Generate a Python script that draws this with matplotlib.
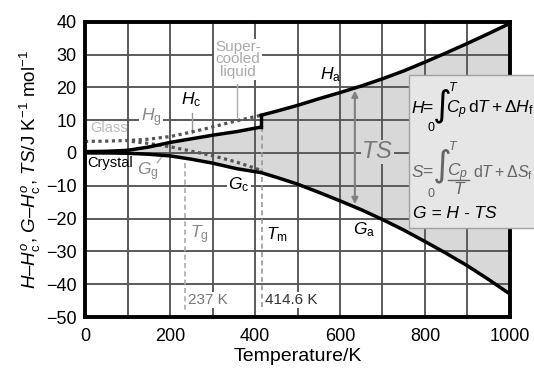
import matplotlib
matplotlib.use("Agg")
import matplotlib.pyplot as plt
from matplotlib.patches import Rectangle
from matplotlib.lines import Line2D
from matplotlib.ticker import MultipleLocator

plt.rcParams['font.family'] = ['Liberation Sans', 'DejaVu Sans']
plt.rcParams['mathtext.fontset'] = 'custom'
plt.rcParams['mathtext.rm'] = 'Liberation Sans'
plt.rcParams['mathtext.it'] = 'Liberation Sans:italic'
plt.rcParams['mathtext.bf'] = 'Liberation Sans:bold'
plt.rcParams['mathtext.fallback'] = 'stixsans'

# ---- data ----
T_g = 237.0
T_m = 414.6

T_cryst = [0, 50, 100, 150, 200, 250, 300, 357, 414.6]
H_cryst = [0.4, 0.5, 0.8, 1.8, 3.2, 4.3, 5.4, 6.5, 7.9]
G_cryst = [0.0, 0.0, -0.1, -0.4, -0.9, -1.9, -3.1, -4.8, -6.0]

T_glassH = [0, 50, 100, 150, 200, 237, 278, 320, 357, 414.6]
H_glass = [3.5, 3.6, 3.8, 4.2, 5.0, 6.0, 7.2, 8.6, 9.8, 11.5]

T_glassG = [110, 150, 200, 237, 278, 320, 357, 414.6]
G_glass = [3.5, 2.9, 1.9, 0.9, -0.2, -1.5, -2.8, -5.3]

T_liq = [414.6, 450, 500, 550, 600, 650, 700, 750, 800, 850, 900, 950, 1000]
H_liq = [11.5, 12.7, 14.5, 16.5, 18.4, 20.4, 22.6, 25.0, 27.7, 30.5, 33.4, 36.4, 39.5]
G_liq = [-6.0, -7.4, -9.5, -12.0, -14.6, -17.3, -20.3, -23.5, -27.0, -30.6, -34.4, -38.6, -43.0]

x_ticks = [0, 200, 400, 600, 800, 1000]
y_ticks = [-50, -40, -30, -20, -10, 0, 10, 20, 30, 40]

# ---- figure ----
W, Hpx = 534, 370
fig = plt.figure(figsize=(W / 100, Hpx / 100), dpi=100)
ax = fig.add_axes([85/W, 1-317/Hpx, 425/W, 295.3/Hpx])
ax.set_xlim(0, 1000)
ax.set_ylim(-50, 40)

fill_c = '#d8d8d8'
ax.fill_between(T_cryst, H_cryst, G_cryst, color=fill_c, lw=0, zorder=0.2)
ax.fill_between(T_liq, H_liq, G_liq, color=fill_c, lw=0, zorder=0.2)

ax.set_xticks(x_ticks)
ax.set_yticks(y_ticks)
ax.xaxis.set_minor_locator(MultipleLocator(100))
ax.grid(which='both', color='#555555', lw=1.35)
ax.set_axisbelow(True)
ax.tick_params(which='both', length=0, labelsize=13)
ax.tick_params(axis='x', pad=8)
ax.tick_params(axis='y', pad=6)
for s in ax.spines.values():
    s.set_linewidth(2.8)
    s.set_zorder(2.6)

lw = 2.5
ax.plot(T_cryst, H_cryst, color='black', lw=lw, zorder=2, solid_capstyle='butt')
ax.plot(T_cryst, G_cryst, color='black', lw=lw, zorder=2, solid_capstyle='butt')
ax.plot(T_liq, H_liq, color='black', lw=lw, zorder=2)
ax.plot(T_liq, G_liq, color='black', lw=lw, zorder=2)
ax.plot([T_m, T_m], [H_cryst[-1], H_liq[0]], color='black', lw=lw, zorder=2)
ax.plot(T_glassH, H_glass, color='#555555', lw=2.3, ls=(0, (1, 1.1)), zorder=1.9)
ax.plot(T_glassG, G_glass, color='#555555', lw=2.3, ls=(0, (1, 1.1)), zorder=1.9)

# vertical dashed lines
ax.plot([T_g - 2, T_g - 2], [-3, -48], color='#aaaaaa', lw=1.2, ls=(0, (3, 2)), zorder=1.5)
ax.plot([T_m + 2, T_m + 2], [H_cryst[-1], -48], color='#999999', lw=1.2, ls=(0, (3, 2)), zorder=1.5)

# TS arrow
ax.annotate('', xy=(635, -15.6), xytext=(635, 19.0),
            arrowprops=dict(arrowstyle='<|-|>', color='#808080', lw=1.5,
                            mutation_scale=9, shrinkA=0, shrinkB=0), zorder=2.2)

wb = dict(fc='white', ec='none', pad=1.0)
ax.text(12, 7.6, 'Glass', color='#bbbbbb', fontsize=10.5, ha='left', va='center', zorder=3)
ax.text(5, -3.2, 'Crystal', color='black', fontsize=10.5, ha='left', va='center', zorder=3)
ax.text(155, 10.6, r'$H_\mathrm{g}$', color='#888888', fontsize=12.5, ha='center', va='center',
        bbox=wb, zorder=3)
ax.text(250, 16.3, r'$H_\mathrm{c}$', color='black', fontsize=12.5, ha='center', va='center', zorder=3)
ax.plot([252, 252], [12.3, 6.0], color='#999999', lw=1.0, zorder=1.8)
ax.text(360, 28.5, 'Super-\ncooled\nliquid', color='#aaaaaa', fontsize=11, ha='center',
        va='center', linespacing=0.9, bbox=dict(fc='white', ec='none', pad=0.5), zorder=3)
ax.plot([358, 358], [21.0, 11.0], color='#aaaaaa', lw=1.0, zorder=1.8)
ax.text(148, -5.6, r'$G_\mathrm{g}$', color='#888888', fontsize=12.5, ha='center', va='center', zorder=3)
ax.plot([170, 183], [-3.0, -0.8], color='#aaaaaa', lw=1.0, zorder=1.8)
ax.text(362, -9.8, r'$G_\mathrm{c}$', color='black', fontsize=12.5, ha='center', va='center',
        bbox=wb, zorder=3)
ax.text(578, 23.8, r'$H_\mathrm{a}$', color='black', fontsize=12.5, ha='center', va='center', zorder=3)
ax.text(657, -23.5, r'$G_\mathrm{a}$', color='black', fontsize=12.5, ha='center', va='center', zorder=3)
ax.text(268, -24.8, r'$T_\mathrm{g}$', color='#888888', fontsize=12.5, ha='center', va='center', zorder=3)
ax.text(452, -24.8, r'$T_\mathrm{m}$', color='black', fontsize=12.5, ha='center', va='center', zorder=3)
ax.text(243, -44.8, '237 K', color='#777777', fontsize=11, ha='left', va='center', bbox=wb, zorder=3)
ax.text(424, -44.8, '414.6 K', color='#333333', fontsize=11, ha='left', va='center', bbox=wb, zorder=3)
ax.text(688, 0.3, r'$TS$', color='#777777', fontsize=17, ha='center', va='center',
        bbox=dict(fc=fill_c, ec='none', pad=0.5), zorder=3)

ax.set_xlabel('Temperature/K', fontsize=14, labelpad=2)
ax.set_ylabel(r'$H$–$H^{o}_{\mathrm{c}}$, $G$–$H^{o}_{\mathrm{c}}$, $TS$/J K$^{-1}$ mol$^{-1}$',
              fontsize=13.5, labelpad=2)

# formula box
fig.patches.append(Rectangle((409/W, 1-228/Hpx), 1.0, 153/Hpx, transform=fig.transFigure,
                             fc='#e6e6e6', ec='#a0a0a0', lw=1.0, zorder=5))


def ft(x, y, s, **kw):
    kw.setdefault('va', 'baseline')
    kw.setdefault('ha', 'left')
    kw.setdefault('zorder', 6)
    return fig.text(x / W, 1 - y / Hpx, s, **kw)


fs = 12.5
# H row
ft(411.5, 113, 'H', fontsize=fs, style='italic')
ft(422, 113, '=', fontsize=fs)
ft(433, 106, '∫', fontsize=26, va='center', family=['DejaVu Sans'])
ft(449, 91, 'T', fontsize=9, style='italic')
ft(427, 131, '0', fontsize=9)
ft(446, 113, r'$C_p\,\mathrm{d}T + \Delta H_\mathrm{f}$', fontsize=fs)

# S row
sc = '#666666'
ft(411.5, 177, 'S', fontsize=fs, style='italic', color=sc)
ft(422, 177, '=', fontsize=fs, color=sc)
ft(433, 166, '∫', fontsize=26, va='center', family=['DejaVu Sans'], color=sc)
ft(449, 150, 'T', fontsize=9, style='italic', color=sc)
ft(427, 197, '0', fontsize=9, color=sc)
ft(447, 176, r'$C_p$', fontsize=fs, color=sc)
fig.add_artist(Line2D([448/W, 469/W], [1-179.5/Hpx, 1-179.5/Hpx], transform=fig.transFigure,
                      color=sc, lw=1.0, zorder=6))
ft(458.5, 194, 'T', fontsize=fs, style='italic', color=sc, ha='center')
ft(473, 177, r'$\mathrm{d}T + \Delta S_\mathrm{f}$', fontsize=11.5, color=sc)

# G row
ft(413, 218, 'G = H - TS', fontsize=fs, style='italic')

fig.savefig('out.png', dpi=100)
